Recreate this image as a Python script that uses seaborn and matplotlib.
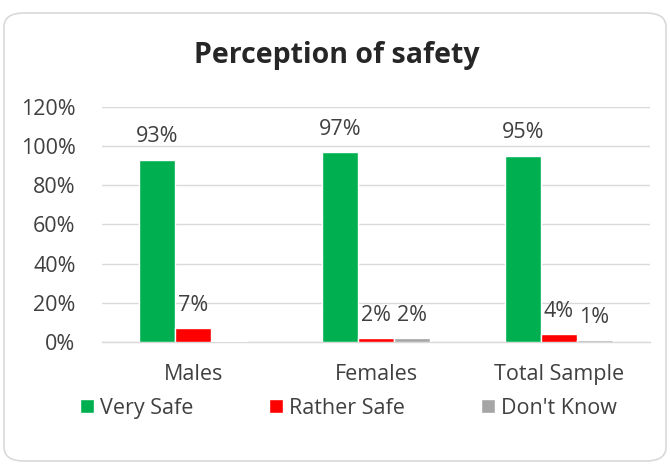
import matplotlib
matplotlib.use("Agg")
import matplotlib.pyplot as plt
import pandas as pd
import seaborn as sns
from matplotlib.patches import FancyBboxPatch
from matplotlib.ticker import PercentFormatter

# datos
groups = ["Males", "Females", "Total Sample"]
answers = ["Very Safe", "Rather Safe", "Don't Know"]
very_safe = [93, 97, 95]
rather_safe = [7, 2, 4]
dont_know = [0.6, 2, 1]
labels_dk = ["", "2%", "1%"]  # el gris de Males no tiene etiqueta

colors = ["#00b050", "#ff0000", "#a5a5a5"]

rows = []
for i, g in enumerate(groups):
    rows.append({"group": g, "answer": answers[0], "value": very_safe[i]})
    rows.append({"group": g, "answer": answers[1], "value": rather_safe[i]})
    rows.append({"group": g, "answer": answers[2], "value": dont_know[i]})
df = pd.DataFrame(rows)

sns.set_style("white")
plt.rcParams["font.family"] = ["Open Sans", "DejaVu Sans"]

FS = 15.5
fig = plt.figure(figsize=(6.7, 4.65), dpi=100)
ax = fig.add_axes([102 / 670, 123 / 465, 548 / 670, 235 / 465])

sns.barplot(data=df, x="group", y="value", hue="answer", hue_order=answers,
            palette=colors, width=0.59, saturation=1, ax=ax, legend=True)

# barras por encima del eje para que se vea la gris pequeña
for p in ax.patches:
    p.set_zorder(3)

# etiquetas de datos
label_sets = [
    [f"{v:.0f}%" for v in very_safe],
    [f"{v:.0f}%" for v in rather_safe],
    labels_dk,
]
for cont, labs in zip(ax.containers, label_sets):
    ax.bar_label(cont, labels=labs, padding=9, fontsize=FS, color="#404040")

ax.set_ylim(0, 120)
ax.set_yticks(range(0, 121, 20))
ax.yaxis.set_major_formatter(PercentFormatter(decimals=0))
ax.grid(axis="y", color="#d9d9d9", linewidth=1)
ax.set_axisbelow(True)
for s in ["top", "right", "left"]:
    ax.spines[s].set_visible(False)
ax.spines["bottom"].set_color("#d9d9d9")
ax.spines["bottom"].set_linewidth(1)
ax.tick_params(axis="y", length=0, pad=19, labelsize=FS, labelcolor="#404040")
ax.tick_params(axis="x", length=0, pad=16, labelsize=FS, labelcolor="#404040")
ax.set_xlabel("")
ax.set_ylabel("")

fig.text(337 / 670, 1 - 55 / 465, "Perception of safety", fontsize=20.5,
         fontweight="bold", color="#262626", ha="center", va="center")

handles, leg_labels = ax.get_legend_handles_labels()
ax.get_legend().remove()
fig.legend(handles, leg_labels, loc="center", bbox_to_anchor=(0.52, 1 - 408 / 465),
           ncol=3, frameon=False, fontsize=FS, handlelength=0.65, handleheight=0.65,
           handletextpad=0.3, columnspacing=3.5, labelcolor="#404040")

# marco redondeado
frame = FancyBboxPatch((4 / 670, 4 / 465), 662 / 670, 448 / 465,
                       boxstyle="round,pad=0,rounding_size=0.03",
                       transform=fig.transFigure, facecolor="none",
                       edgecolor="#d9d9d9", linewidth=1.2)
fig.patches.append(frame)

fig.savefig("out.png", dpi=100)
